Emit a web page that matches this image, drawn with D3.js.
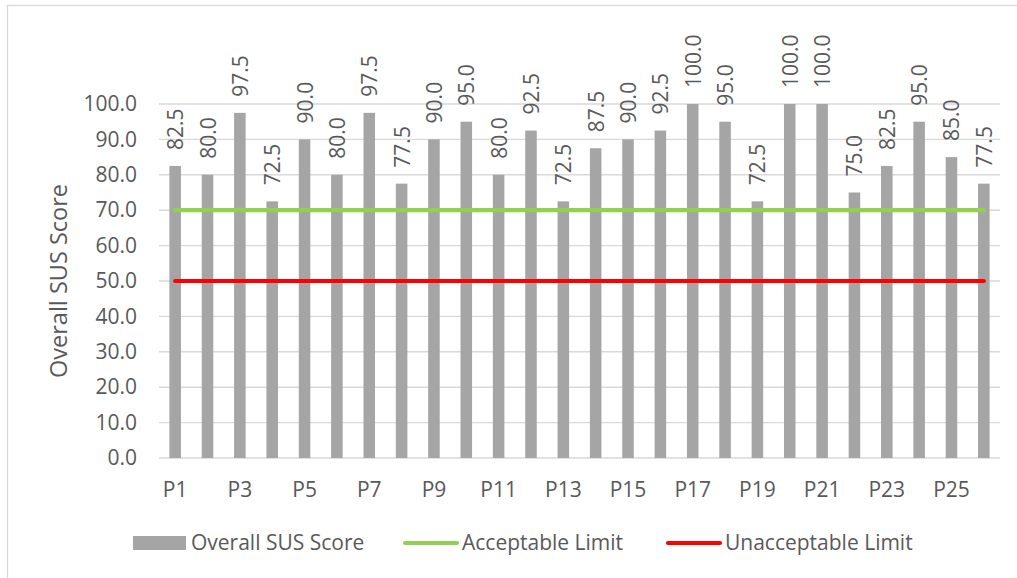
<!DOCTYPE html>
<html>
<head>
<meta charset="utf-8">
<script src="https://cdn.jsdelivr.net/npm/d3@7"></script>
<style>
  html, body { margin: 0; padding: 0; background: #fff; }
  svg { display: block; font-family: "Open Sans", "Noto Sans", sans-serif; }
</style>
</head>
<body>
<svg id="chart" width="1017" height="578"></svg>
<script>
// Participants and their overall SUS scores
const participants = ["P1","P2","P3","P4","P5","P6","P7","P8","P9","P10","P11","P12","P13",
  "P14","P15","P16","P17","P18","P19","P20","P21","P22","P23","P24","P25","P26"];
const susScores = [82.5, 80.0, 97.5, 72.5, 90.0, 80.0, 97.5, 77.5, 90.0, 95.0, 80.0, 92.5, 72.5,
  87.5, 90.0, 92.5, 100.0, 95.0, 72.5, 100.0, 100.0, 75.0, 82.5, 95.0, 85.0, 77.5];
// Reference thresholds
const acceptableLimit = participants.map(() => 70);
const unacceptableLimit = participants.map(() => 50);
const yTicks = [0, 10, 20, 30, 40, 50, 60, 70, 80, 90, 100];
const seriesNames = ["Overall SUS Score", "Acceptable Limit", "Unacceptable Limit"];

const textColor = "#595959";
const gridColor = "#D9D9D9";
const barColor = "#A5A5A5";
const greenColor = "#92D050";
const redColor = "#FF0000";

const svg = d3.select("#chart");

// Chart frame
svg.append("rect")
  .attr("x", 7.5).attr("y", 5.5)
  .attr("width", 1100).attr("height", 700)
  .attr("fill", "#fff")
  .attr("stroke", gridColor).attr("stroke-width", 1.3);

const plot = { left: 159, right: 1000, top: 104, bottom: 458 };

const x = d3.scaleBand()
  .domain(participants)
  .range([plot.left, plot.right])
  .paddingInner(0.643)
  .paddingOuter(0.3215);

const y = d3.scaleLinear()
  .domain([0, 100])
  .range([plot.bottom, plot.top]);

const cx = d => x(d) + x.bandwidth() / 2;

// Horizontal gridlines
svg.append("g")
  .selectAll("line")
  .data(yTicks)
  .join("line")
  .attr("x1", plot.left).attr("x2", plot.right)
  .attr("y1", d => y(d)).attr("y2", d => y(d))
  .attr("stroke", gridColor).attr("stroke-width", 1.4);

// Y axis labels
const yAxis = d3.axisLeft(y).tickValues(yTicks).tickSize(0).tickPadding(0)
  .tickFormat(d3.format(".1f"));
const yg = svg.append("g").attr("transform", `translate(${plot.left - 22},0)`).call(yAxis);
yg.select(".domain").remove();
yg.selectAll("text")
  .attr("fill", textColor)
  .style("font-size", "21px")
  .style("font-family", "\"Open Sans\", sans-serif");

// X axis labels (every other participant)
const xAxis = d3.axisBottom(x).tickSize(0).tickPadding(0)
  .tickFormat((d, i) => (i % 2 === 0 ? d : ""));
const xg = svg.append("g").attr("transform", `translate(0,${plot.bottom})`).call(xAxis);
xg.select(".domain").remove();
xg.selectAll("text")
  .attr("fill", textColor)
  .attr("dy", null)
  .attr("y", 39)
  .style("font-size", "21px")
  .style("font-family", "\"Open Sans\", sans-serif");

// Bars
svg.append("g")
  .selectAll("rect")
  .data(participants)
  .join("rect")
  .attr("x", d => x(d))
  .attr("width", x.bandwidth())
  .attr("y", (d, i) => y(susScores[i]))
  .attr("height", (d, i) => y(0) - y(susScores[i]))
  .attr("fill", barColor);

// Threshold lines
const line = (vals) => d3.line()
  .x((d, i) => cx(participants[i]))
  .y(d => y(d))(vals);

svg.append("path")
  .attr("d", line(acceptableLimit))
  .attr("fill", "none").attr("stroke", greenColor)
  .attr("stroke-width", 4.2).attr("stroke-linecap", "round");

svg.append("path")
  .attr("d", line(unacceptableLimit))
  .attr("fill", "none").attr("stroke", redColor)
  .attr("stroke-width", 4.2).attr("stroke-linecap", "round");

// Value labels, rotated above each bar
svg.append("g")
  .selectAll("text")
  .data(participants)
  .join("text")
  .attr("transform", (d, i) => `translate(${cx(d)},${y(susScores[i]) - 16}) rotate(-90)`)
  .attr("text-anchor", "start")
  .attr("dominant-baseline", "central")
  .attr("fill", textColor)
  .style("font-size", "21px")
  .text((d, i) => susScores[i].toFixed(1));

// Y axis title
svg.append("text")
  .attr("transform", `translate(58,${(plot.top + plot.bottom) / 2}) rotate(-90)`)
  .attr("text-anchor", "middle")
  .attr("dominant-baseline", "central")
  .attr("fill", textColor)
  .style("font-size", "23.5px")
  .text("Overall SUS Score");

// Legend
const legend = svg.append("g");
const legendY = 543;
legend.append("rect")
  .attr("x", 133).attr("y", legendY - 7).attr("width", 53).attr("height", 14)
  .attr("fill", barColor);
legend.append("text")
  .attr("x", 191).attr("y", legendY + 7)
  .attr("fill", textColor).style("font-size", "21px")
  .text(seriesNames[0]);

legend.append("line")
  .attr("x1", 405).attr("x2", 457).attr("y1", legendY).attr("y2", legendY)
  .attr("stroke", greenColor).attr("stroke-width", 4.2).attr("stroke-linecap", "round");
legend.append("text")
  .attr("x", 462).attr("y", legendY + 7)
  .attr("fill", textColor).style("font-size", "21px")
  .text(seriesNames[1]);

legend.append("line")
  .attr("x1", 668).attr("x2", 720).attr("y1", legendY).attr("y2", legendY)
  .attr("stroke", redColor).attr("stroke-width", 4.2).attr("stroke-linecap", "round");
legend.append("text")
  .attr("x", 725).attr("y", legendY + 7)
  .attr("fill", textColor).style("font-size", "21px")
  .text(seriesNames[2]);
</script>
</body>
</html>
